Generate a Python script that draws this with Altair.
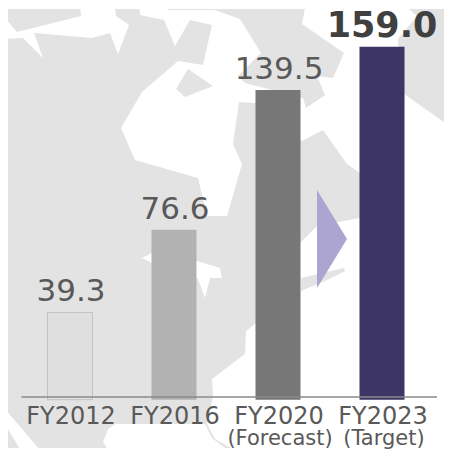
import altair as alt
import pandas as pd

years = ["FY2012", "FY2016", "FY2020", "FY2023"]
sublabels = ["", "", "(Forecast)", "(Target)"]
values = [39.3, 76.6, 139.5, 159.0]
bar_fill = ["#dfdfdf", "#b2b2b2", "#777777", "#3d3566"]
bar_line = ["#c2c2c2", "transparent", "transparent", "transparent"]
label_text = ["39.3", "76.6", "139.5", "159.0"]

# decorative backdrop outlines, in page pixels
map_west = [(0,38),(23,37),(43,57),(34,32),(92,37),(110,32),(118,53),(129,24),(116,15),(114,0),(139,0),(140,14),
            (164,19),(175,45),(190,19),(212,24),(203,64),(178,60),(142,91),(121,127),(135,159),(198,177),(207,215),
            (227,215),(242,163),(233,143),(239,101),(256,102),(302,140),(323,129),(347,163),(360,172),(360,217),
            (317,225),(301,241),(256,322),(246,330),(245,353),(212,378),(213,395),(207,423),(215,438),(233,448),
            (217,451),(203,455),(0,455)]
map_strip = [(0,5),(60,0),(80,5),(81,15),(17,31),(5,17),(0,17)]
map_band = [(162,0),(168,9),(215,9),(240,18),(261,52),(238,75),(245,82),(303,97),(306,107),(325,94),(317,75),
            (333,77),(344,52),(302,23),(305,7),(278,0)]
map_island = [(188,68),(213,85),(185,96),(176,88)]
map_east = [(400,0),(417,15),(398,38),(400,90),(452,127),(452,0)]
map_sliver = [(301,277),(344,267),(345,270),(325,280),(301,290)]
gaps = [
    [(142,257),(152,252),(197,260),(220,267),(222,277),(210,277),(205,297),(198,278),(152,262)],
    [(103,441),(108,428),(115,423),(205,423),(212,437),(225,447),(200,455),(112,455)],
    [(0,402),(45,455),(32,455),(28,450),(20,448),(0,415)],
]
arrow = [(317,189),(347,238),(317,287)]


def features(polys):
    return [{"type": "Feature", "properties": {},
             "geometry": {"type": "Polygon", "coordinates": [[list(p) for p in poly] + [list(poly[0])]]}}
            for poly in polys]


def shape(polys, color):
    return alt.Chart(alt.InlineData(values=features(polys))).mark_geoshape(
        fill=color, stroke=None
    ).project(type="identity", scale=1, translate=[-8, -8])


df = pd.DataFrame({"year": years, "sub": sublabels, "value": values, "fill": bar_fill,
                   "line": bar_line, "txt": label_text})

x = alt.X("year:N", sort=years, axis=None,
          scale=alt.Scale(range=[10, 426], paddingInner=0, paddingOuter=0))
y = alt.Y("value:Q", axis=None, scale=alt.Scale(domain=[0, 176], range=[390.7, 0]))
base = alt.Chart(df)
FONT = "DejaVu Sans"

bars = base.mark_bar(size=45, strokeWidth=1).encode(
    x=x, y=y,
    fill=alt.Fill("fill:N", scale=None),
    stroke=alt.Stroke("line:N", scale=None),
)
rule = base.transform_filter("datum.year == 'FY2012'").mark_rule(color="#8a8a8a", strokeWidth=1.5).encode(
    x=alt.value(13.5), x2=alt.value(429), y=alt.value(388)
)
vals = base.transform_filter("datum.year != 'FY2023'").mark_text(
    font=FONT, fontSize=31, color="#595959", baseline="alphabetic", dy=-11, dx=1
).encode(x=x, y=y, text="txt:N")
top = base.transform_filter("datum.year == 'FY2023'").mark_text(
    font=FONT, fontSize=35, fontWeight="bold", color="#404040", baseline="alphabetic", dy=-10
).encode(x=x, y=y, text="txt:N")
ticks = base.mark_text(font=FONT, fontSize=24, color="#595959", baseline="alphabetic", dx=1).encode(
    x=x, y=alt.value(415), text="year:N"
)
subs = base.mark_text(font=FONT, fontSize=21, color="#595959", baseline="alphabetic", dx=2).encode(
    x=x, y=alt.value(435.5), text="sub:N"
)

chart = alt.layer(
    shape([map_west, map_strip, map_band, map_island, map_east, map_sliver], "#e3e3e3"),
    shape(gaps, "#ffffff"),
    shape([arrow], "#aca5d1"),
    bars, rule, vals, top, ticks, subs,
).properties(width=436, height=439, padding=0).configure_view(stroke=None)

chart.save("out.html", embed_options={"renderer": "svg", "actions": False})
